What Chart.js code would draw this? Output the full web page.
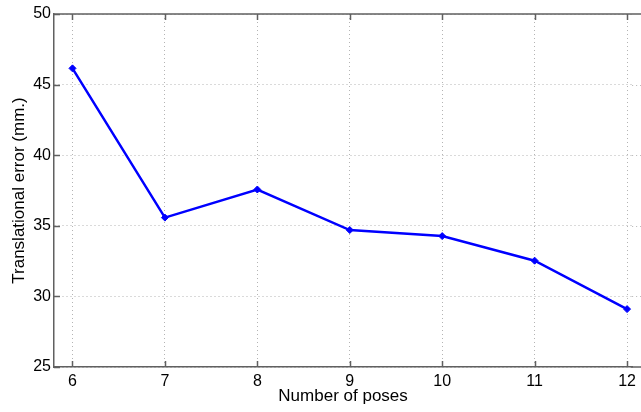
<!DOCTYPE html>
<html>
<head>
<meta charset="utf-8">
<script src="https://cdn.jsdelivr.net/npm/chart.js@4"></script>
<style>
  html, body { margin: 0; padding: 0; background: #fff; overflow: hidden; }
  #wrap { width: 641px; height: 412px; }
</style>
</head>
<body>
<div id="wrap"><canvas id="errChart" width="641" height="412"></canvas></div>
<script>
const poses = [6, 7, 8, 9, 10, 11, 12];
const transError = [46.15, 35.58, 37.57, 34.7, 34.27, 32.53, 29.1];
const yTicks = [25, 30, 35, 40, 45, 50];

const axisColor = '#606060';
const fontFam = '"Liberation Sans", Arial, sans-serif';

// matlab-ish box: top border + inward tick marks, axes run to the crop edge
const boxTicks = {
  id: 'boxTicks',
  afterDraw(chart) {
    const { ctx, chartArea: a, scales } = chart;
    ctx.save();
    // horizontal grid continues past chartArea to the image edge
    ctx.strokeStyle = '#b4b4b4';
    ctx.lineWidth = 1;
    ctx.setLineDash([1, 3]);
    ctx.beginPath();
    yTicks.slice(1, -1).forEach(v => {
      const y = Math.round(scales.y.getPixelForValue(v)) + 0.5;
      ctx.moveTo(a.right, y); ctx.lineTo(chart.width, y);
    });
    ctx.stroke();
    ctx.setLineDash([]);

    ctx.strokeStyle = axisColor;
    ctx.lineWidth = 1.5;
    ctx.beginPath();
    ctx.moveTo(a.left, a.top);
    ctx.lineTo(chart.width, a.top);
    ctx.moveTo(a.right - 1, a.bottom);
    ctx.lineTo(chart.width, a.bottom);
    poses.forEach(p => {
      const x = Math.round(scales.x.getPixelForValue(p)) + 0.5;
      ctx.moveTo(x, a.bottom); ctx.lineTo(x, a.bottom - 6);
      ctx.moveTo(x, a.top); ctx.lineTo(x, a.top + 6);
    });
    yTicks.forEach(v => {
      const y = Math.round(scales.y.getPixelForValue(v)) + 0.5;
      ctx.moveTo(a.left, y); ctx.lineTo(a.left + 6, y);
    });
    ctx.stroke();
    ctx.restore();
  }
};

const ctx = document.getElementById('errChart').getContext('2d');
new Chart(ctx, {
  type: 'line',
  data: {
    datasets: [{
      data: poses.map((p, i) => ({ x: p, y: transError[i] })),
      borderColor: '#0000ff',
      backgroundColor: '#0000ff',
      borderWidth: 2.5,
      pointStyle: 'rectRot',
      pointRadius: 3.5,
      pointBorderWidth: 1,
      tension: 0
    }]
  },
  options: {
    responsive: false,
    animation: false,
    layout: { padding: { left: 0, top: 14, right: 0, bottom: 0 } },
    plugins: { legend: { display: false }, tooltip: { enabled: false } },
    scales: {
      x: {
        type: 'linear',
        min: 5.8,
        max: 12.055,
        afterBuildTicks: s => { s.ticks = poses.map(v => ({ value: v })); },
        afterFit: s => { s.height = 45; },
        grid: { color: '#b4b4b4', lineWidth: 1, drawTicks: false },
        border: { color: axisColor, width: 1.5, dash: [1, 3] },
        ticks: { color: '#000', font: { family: fontFam, size: 16 }, padding: 5, maxRotation: 0 },
        title: {
          display: true, text: 'Number of poses', color: '#000',
          font: { family: fontFam, size: 17 }, padding: { top: 0, bottom: 5 }
        }
      },
      y: {
        min: 25,
        max: 50,
        afterBuildTicks: s => { s.ticks = yTicks.map(v => ({ value: v })); },
        afterFit: s => { s.width = 54; },
        grid: { color: '#b4b4b4', lineWidth: 1, drawTicks: false },
        border: { color: axisColor, width: 1.5, dash: [1, 3] },
        ticks: { color: '#000', font: { family: fontFam, size: 16 }, padding: 3 },
        title: {
          display: true, text: 'Translational error (mm.)', color: '#000',
          font: { family: fontFam, size: 17 }, padding: { top: 9, bottom: 0 }
        }
      }
    }
  },
  plugins: [boxTicks]
});
</script>
</body>
</html>
